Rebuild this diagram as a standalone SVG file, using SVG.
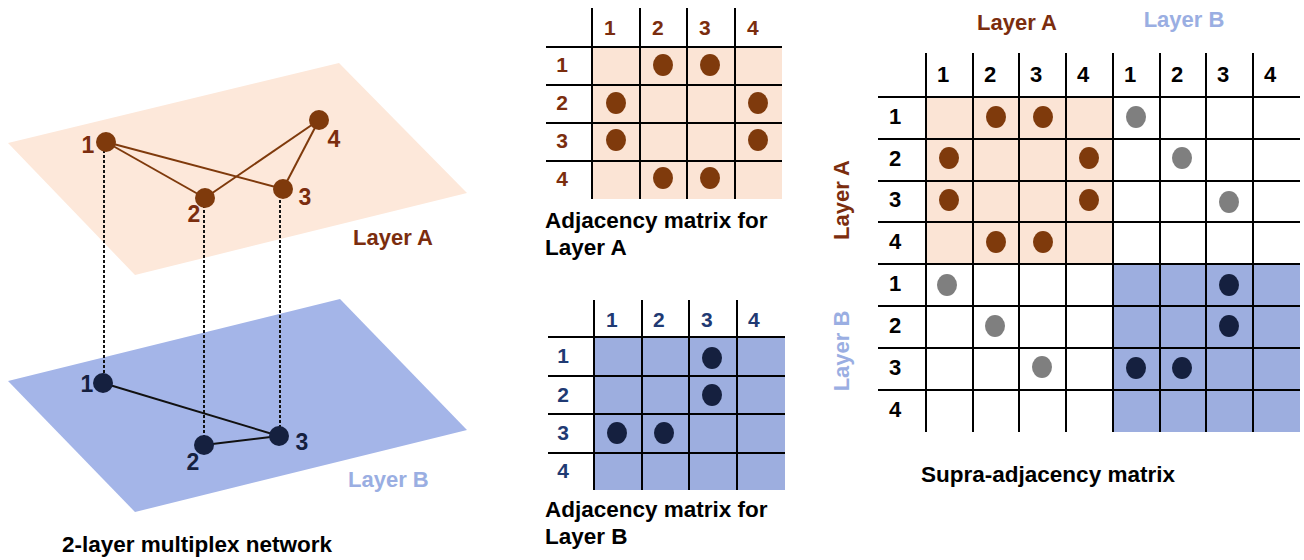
<svg xmlns="http://www.w3.org/2000/svg" width="1304" height="560" viewBox="0 0 1304 560">
<style>
text{font-family:"Liberation Sans",Arial,sans-serif;font-weight:bold}
.cap{font-size:22.5px;fill:#000}
.nA{fill:#7F3A0C}
.nB{fill:#15203F}
.lblA{font-size:23px;fill:#7B2D0E}
.lblB{font-size:23px;fill:#15203F}
.grid{stroke:#000;stroke-width:2;fill:none}
.hA{font-size:21px;fill:#7B2D0E}
.hB{font-size:21px;fill:#1F3A73}
.hS{font-size:22px;fill:#000}
.dA{fill:#7F3A0C}
.dB{fill:#15203F}
.dG{fill:#7F7F7F}
.eA{stroke:#7F3A0C;stroke-width:2}
.eB{stroke:#111;stroke-width:2}
.inter{stroke:#111;stroke-width:2;stroke-dasharray:3 2}
</style>

<!-- Planes -->
<g id="planeA"><polygon points="8,143 339,63 467,193 135,275" fill="#FDE8DA"/></g>
<g id="planeB"><polygon points="8,381 340,299 467,430 135,512" fill="#A4B5E8"/></g>

<!-- connectors -->
<g id="connectors">
  <line class="inter" x1="104" y1="150" x2="104" y2="380"/>
  <line class="inter" x1="204" y1="205" x2="204" y2="442"/>
  <line class="inter" x1="280" y1="195" x2="280" y2="432"/>
  <line class="eA" x1="106" y1="142" x2="205" y2="198"/>
  <line class="eA" x1="106" y1="142" x2="283" y2="189"/>
  <line class="eA" x1="205" y1="198" x2="319" y2="120"/>
  <line class="eA" x1="283" y1="189" x2="319" y2="120"/>
  <line class="eB" x1="103" y1="383" x2="279" y2="436"/>
  <line class="eB" x1="204" y1="445" x2="279" y2="436"/>
</g>

<!-- Layer A nodes -->
<g id="A1"><circle class="nA" cx="106" cy="142" r="10"/><text class="lblA" x="88" y="153" text-anchor="middle">1</text></g>
<g id="A2"><circle class="nA" cx="205" cy="198" r="10"/><text class="lblA" x="194" y="222" text-anchor="middle">2</text></g>
<g id="A3"><circle class="nA" cx="283" cy="189" r="10"/><text class="lblA" x="305" y="205" text-anchor="middle">3</text></g>
<g id="A4"><circle class="nA" cx="319" cy="120" r="10"/><text class="lblA" x="334" y="147" text-anchor="middle">4</text></g>
<!-- Layer B nodes -->
<g id="B1"><circle class="nB" cx="103" cy="383" r="10"/><text class="lblB" x="87" y="392" text-anchor="middle">1</text></g>
<g id="B2"><circle class="nB" cx="204" cy="445" r="10"/><text class="lblB" x="193" y="470" text-anchor="middle">2</text></g>
<g id="B3"><circle class="nB" cx="279" cy="436" r="10"/><text class="lblB" x="302" y="450" text-anchor="middle">3</text></g>

<text x="353" y="245" font-size="22" fill="#7B2D0E">Layer A</text>
<text x="348" y="487" font-size="22" fill="#9AAEE2">Layer B</text>
<text class="cap" x="62" y="552">2-layer multiplex network</text>

<!-- Matrix A -->
<g id="matrixA">
  <rect x="592" y="47" width="190" height="152" fill="#FBE4D5"/>
  <g class="grid">
    <path d="M592 8V199M640 8V199M687 8V199M735 8V199M546 47H782M546 85H782M546 123H782M546 161H782"/>
  </g>
  <g class="hA">
    <text x="604" y="35">1</text><text x="652" y="35">2</text><text x="699" y="35">3</text><text x="747" y="35">4</text>
    <text x="562" y="72" text-anchor="middle">1</text><text x="562" y="110" text-anchor="middle">2</text><text x="562" y="148" text-anchor="middle">3</text><text x="562" y="186" text-anchor="middle">4</text>
  </g>
  <g class="dA">
    <ellipse cx="663" cy="65" rx="10" ry="11"/><ellipse cx="710" cy="65" rx="10" ry="11"/>
    <ellipse cx="616" cy="103" rx="10" ry="11"/><ellipse cx="758" cy="103" rx="10" ry="11"/>
    <ellipse cx="616" cy="140" rx="10" ry="11"/><ellipse cx="758" cy="140" rx="10" ry="11"/>
    <ellipse cx="663" cy="178" rx="10" ry="11"/><ellipse cx="710" cy="178" rx="10" ry="11"/>
  </g>
  <text class="cap" x="545" y="228">Adjacency matrix for</text>
  <text class="cap" x="545" y="255">Layer A</text>
</g>

<!-- Matrix B -->
<g id="matrixB">
  <rect x="594" y="337" width="191" height="153" fill="#9DAEDF"/>
  <g class="grid">
    <path d="M594 300V490M642 300V490M689 300V490M737 300V490M548 337H785M548 376H785M548 414H785M548 453H785"/>
  </g>
  <g class="hB">
    <text x="606" y="327">1</text><text x="653" y="327">2</text><text x="701" y="327">3</text><text x="748" y="327">4</text>
    <text x="563" y="363" text-anchor="middle">1</text><text x="563" y="402" text-anchor="middle">2</text><text x="563" y="440" text-anchor="middle">3</text><text x="563" y="478" text-anchor="middle">4</text>
  </g>
  <g class="dB">
    <ellipse cx="712" cy="358" rx="10" ry="11"/><ellipse cx="712" cy="395" rx="10" ry="11"/>
    <ellipse cx="617" cy="433" rx="10" ry="11"/><ellipse cx="664" cy="433" rx="10" ry="11"/>
  </g>
  <text class="cap" x="545" y="517">Adjacency matrix for</text>
  <text class="cap" x="545" y="544">Layer B</text>
</g>

<!-- Supra-adjacency -->
<g id="supra">
  <rect x="926" y="97" width="187" height="167" fill="#FBE4D5"/>
  <rect x="1113" y="264" width="187" height="168" fill="#9DAEDF"/>
  <g class="grid">
    <path d="M926 53V432M973 53V432M1019 53V432M1066 53V432M1113 53V432M1160 53V432M1206 53V432M1253 53V432"/>
    <path d="M878 97H1300M878 139H1300M878 181H1300M878 222H1300M878 264H1300M878 306H1300M878 348H1300M878 390H1300"/>
  </g>
  <g class="hS">
    <text x="937" y="82">1</text><text x="984" y="82">2</text><text x="1030" y="82">3</text><text x="1077" y="82">4</text>
    <text x="1124" y="82">1</text><text x="1171" y="82">2</text><text x="1217" y="82">3</text><text x="1264" y="82">4</text>
    <g text-anchor="middle">
      <text x="895" y="124">1</text><text x="895" y="166">2</text><text x="895" y="207">3</text><text x="895" y="249">4</text>
      <text x="895" y="291">1</text><text x="895" y="333">2</text><text x="895" y="375">3</text><text x="895" y="417">4</text>
    </g>
  </g>
  <g class="dA">
    <ellipse cx="996" cy="117" rx="10" ry="11"/><ellipse cx="1043" cy="117" rx="10" ry="11"/>
    <ellipse cx="949" cy="158" rx="10" ry="11"/><ellipse cx="1089" cy="158" rx="10" ry="11"/>
    <ellipse cx="949" cy="200" rx="10" ry="11"/><ellipse cx="1089" cy="200" rx="10" ry="11"/>
    <ellipse cx="996" cy="242" rx="10" ry="11"/><ellipse cx="1043" cy="242" rx="10" ry="11"/>
  </g>
  <g class="dG">
    <ellipse cx="1136" cy="117" rx="10" ry="11"/><ellipse cx="1182" cy="158" rx="10" ry="11"/><ellipse cx="1229" cy="202" rx="10" ry="11"/>
    <ellipse cx="947" cy="285" rx="10" ry="11"/><ellipse cx="995" cy="326" rx="10" ry="11"/><ellipse cx="1042" cy="367" rx="10" ry="11"/>
  </g>
  <g class="dB">
    <ellipse cx="1229" cy="285" rx="10" ry="11"/><ellipse cx="1229" cy="326" rx="10" ry="11"/>
    <ellipse cx="1136" cy="368" rx="10" ry="11"/><ellipse cx="1182" cy="368" rx="10" ry="11"/>
  </g>
  <text x="1017" y="30" font-size="22" fill="#7B2D0E" text-anchor="middle">Layer A</text>
  <text x="1184" y="27" font-size="22" fill="#9AAEE2" text-anchor="middle">Layer B</text>
  <text transform="translate(849,200) rotate(-90)" font-size="22" fill="#7B2D0E" text-anchor="middle">Layer A</text>
  <text transform="translate(849,351) rotate(-90)" font-size="22" fill="#9AAEE2" text-anchor="middle">Layer B</text>
  <text class="cap" x="1048" y="482" text-anchor="middle">Supra-adjacency matrix</text>
</g>
</svg>
